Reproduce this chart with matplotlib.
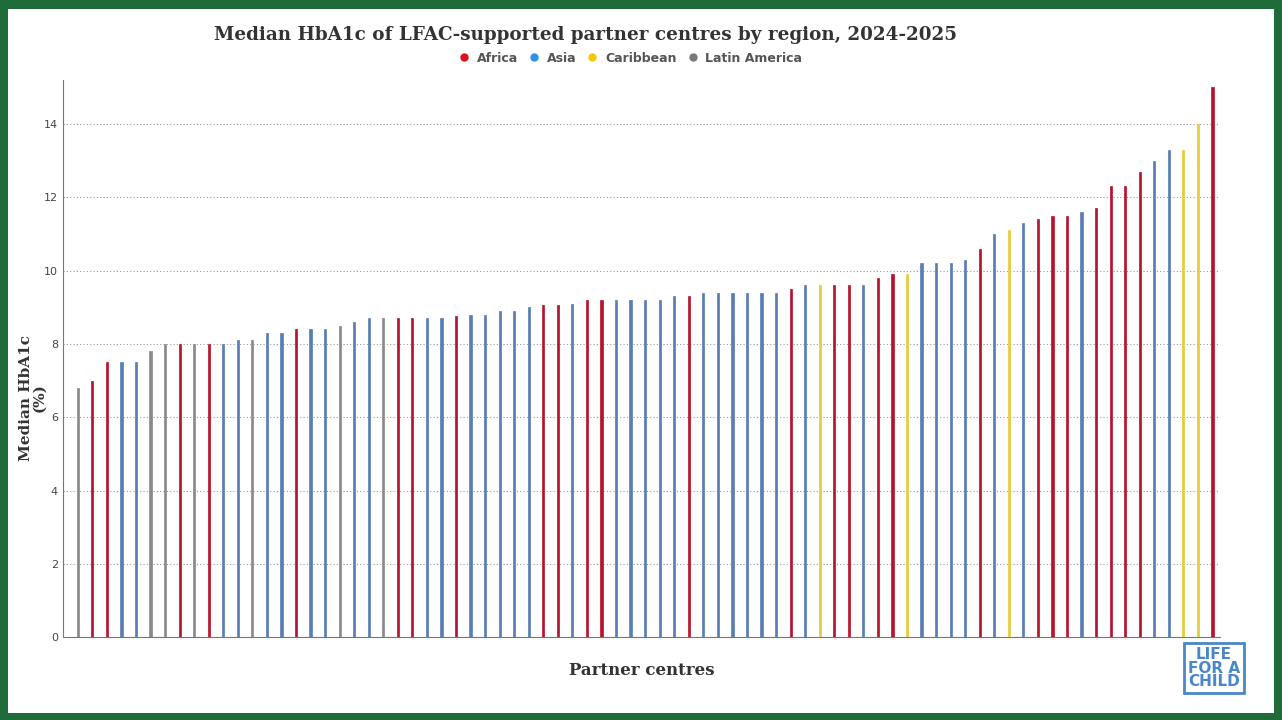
import matplotlib.pyplot as plt
import matplotlib.patches as mpatches
from matplotlib.lines import Line2D

regions = ['G', 'A', 'A', 'B', 'B', 'G', 'G', 'A', 'G', 'A',
           'B', 'B', 'G', 'B', 'B', 'A', 'B', 'B', 'G', 'B',
           'B', 'G', 'A', 'A', 'B', 'B', 'A', 'B', 'B', 'B',
           'B', 'B', 'A', 'A', 'B', 'A', 'A', 'B', 'B', 'B',
           'B', 'B', 'A', 'B', 'B', 'B', 'B', 'B', 'B', 'A',
           'B', 'C', 'A', 'A', 'B', 'A', 'A', 'C', 'B', 'B',
           'B', 'B', 'A', 'B', 'C', 'B', 'A', 'A', 'A', 'B',
           'A', 'A', 'A', 'A', 'B', 'B', 'C', 'C', 'A']
hba1c = [6.8, 7.0, 7.5, 7.5, 7.5, 7.8, 8.0, 8.0, 8.0, 8.0,
         8.0, 8.1, 8.1, 8.3, 8.3, 8.4, 8.4, 8.4, 8.5, 8.6,
         8.7, 8.7, 8.7, 8.7, 8.7, 8.7, 8.75, 8.8, 8.8, 8.9,
         8.9, 9.0, 9.05, 9.05, 9.1, 9.2, 9.2, 9.2, 9.2, 9.2,
         9.2, 9.3, 9.3, 9.4, 9.4, 9.4, 9.4, 9.4, 9.4, 9.5,
         9.6, 9.6, 9.6, 9.6, 9.6, 9.8, 9.9, 9.9, 10.2, 10.2,
         10.2, 10.3, 10.6, 11.0, 11.1, 11.3, 11.4, 11.5, 11.5, 11.6,
         11.7, 12.3, 12.3, 12.7, 13.0, 13.3, 13.3, 14.0, 15.0]
bar_col = {'A': '#b8132e', 'B': '#5a7db5', 'C': '#e6cc3a', 'G': '#8a8a8a'}
leg_col = {'A': '#d9101e', 'B': '#2f8fe6', 'C': '#f2c80f', 'G': '#787878'}
leg_names = {'A': 'Africa', 'B': 'Asia', 'C': 'Caribbean', 'G': 'Latin America'}

fig = plt.figure(figsize=(12.82, 7.2), dpi=100)
fig.patch.set_facecolor('#1f6b3a')
fig.patches.append(mpatches.Rectangle((0.006, 0.01), 0.988, 0.978, transform=fig.transFigure,
                                      facecolor='white', edgecolor='none', zorder=-5))

ax = fig.add_axes([0.049, 0.115, 0.903, 0.774])
ax.set_facecolor('white')
n = len(hba1c)
xs = range(n)
ax.bar(xs, hba1c, width=0.15, color=[bar_col[r] for r in regions],
       edgecolor=[bar_col[r] for r in regions], linewidth=0.5, zorder=3)
ax.set_xlim(-1.03, n - 0.45)
ax.set_ylim(0, 15.2)
ax.set_yticks(range(0, 15, 2))
ax.yaxis.grid(True, linestyle=(0, (1, 2)), color='#999999', linewidth=0.8)
ax.set_xticks([])
for s in ['top', 'right']:
    ax.spines[s].set_visible(False)
ax.spines['left'].set_color('#777777')
ax.spines['bottom'].set_color('#777777')
ax.tick_params(axis='y', length=0, labelsize=8, colors='#444444')
ax.set_ylabel('Median HbA1c\n(%)', family='serif', fontweight='bold', fontsize=11,
              color='#333333', linespacing=1.0, va='center')
ax.yaxis.set_label_coords(-0.026, 0.43)
ax.set_xlabel('Partner centres', family='serif', fontweight='bold', fontsize=12, color='#333333', labelpad=18)

fig.text(0.457, 0.951, 'Median HbA1c of LFAC-supported partner centres by region, 2024-2025',
         ha='center', va='center', family='serif', fontweight='bold', fontsize=13.2, color='#333333')
handles = [Line2D([], [], marker='o', linestyle='', color=leg_col[k], markersize=5, label=leg_names[k])
           for k in ['A', 'B', 'C', 'G']]
leg = fig.legend(handles=handles, loc='center', bbox_to_anchor=(0.489, 0.919), ncol=4, frameon=False,
                 fontsize=9, handletextpad=0.0, columnspacing=0.3, labelcolor='#555555')
for t in leg.get_texts():
    t.set_fontweight('bold')

fig.text(0.947, 0.072, 'LIFE\nFOR A\nCHILD', ha='center', va='center', fontsize=11, fontweight='bold',
         color='#4a86c8', linespacing=0.9,
         bbox=dict(boxstyle='square,pad=0.25', facecolor='white', edgecolor='#4a86c8', linewidth=2))

fig.savefig('out.png', dpi=100, facecolor=fig.get_facecolor())
